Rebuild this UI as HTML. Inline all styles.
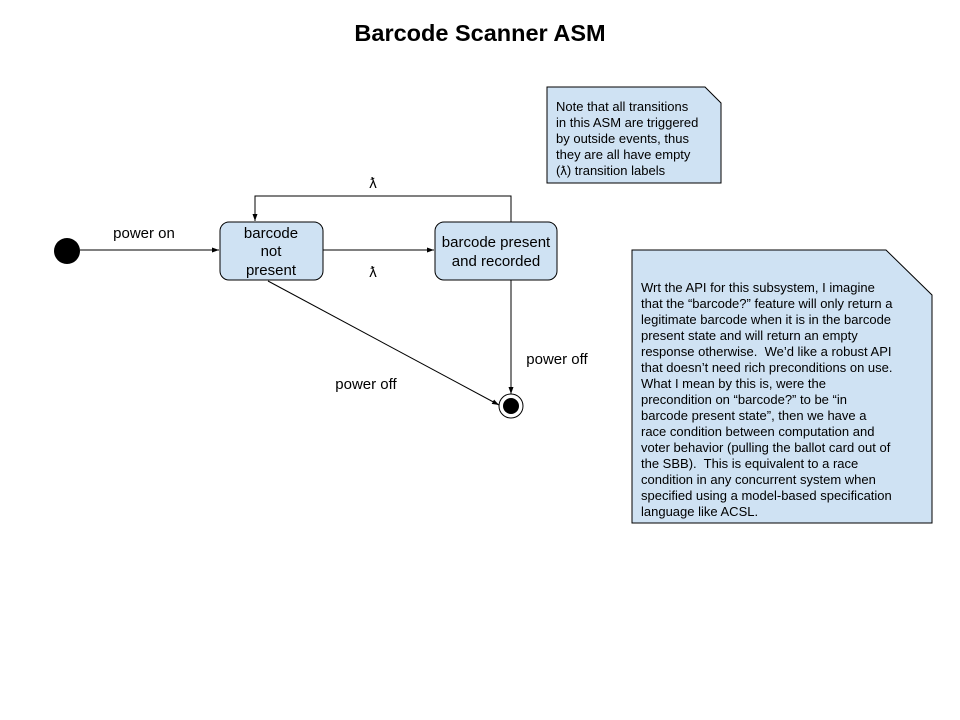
<!DOCTYPE html>
<html><head><meta charset="utf-8"><style>
body{margin:0;background:#fff;}
svg{display:block;}
text{font-family:"Liberation Sans",sans-serif;fill:#000;white-space:pre;}
</style></head><body>
<svg width="960" height="720" viewBox="0 0 960 720" xmlns="http://www.w3.org/2000/svg">
<defs>
<marker id="a" markerWidth="8" markerHeight="8" refX="7" refY="4" orient="auto" markerUnits="userSpaceOnUse">
<path d="M0,1.5 L7,4 L0,6.5 Z" fill="#000"/>
</marker>
</defs>
<rect width="960" height="720" fill="#fff"/>
<text x="480" y="41" font-size="23.5" font-weight="bold" text-anchor="middle">Barcode Scanner ASM</text>

<path d="M547,87 L705,87 L721,103 L721,183 L547,183 Z" fill="#cfe2f3" stroke="#000" stroke-width="1"/>
<text font-size="13"><tspan x="556" y="111">Note that all transitions</tspan><tspan x="556" y="127">in this ASM are triggered</tspan><tspan x="556" y="143">by outside events, thus</tspan><tspan x="556" y="159">they are all have empty</tspan><tspan x="556" y="175">(ƛ) transition labels</tspan></text>

<path d="M632,250 L886,250 L932,295 L932,523 L632,523 Z" fill="#cfe2f3" stroke="#000" stroke-width="1"/>
<text font-size="13" xml:space="preserve"><tspan x="641" y="292">Wrt the API for this subsystem, I imagine</tspan><tspan x="641" y="308">that the “barcode?” feature will only return a</tspan><tspan x="641" y="324">legitimate barcode when it is in the barcode</tspan><tspan x="641" y="340">present state and will return an empty</tspan><tspan x="641" y="356">response otherwise.  We’d like a robust API</tspan><tspan x="641" y="372">that doesn’t need rich preconditions on use.</tspan><tspan x="641" y="388">What I mean by this is, were the</tspan><tspan x="641" y="404">precondition on “barcode?” to be “in</tspan><tspan x="641" y="420">barcode present state”, then we have a</tspan><tspan x="641" y="436">race condition between computation and</tspan><tspan x="641" y="452">voter behavior (pulling the ballot card out of</tspan><tspan x="641" y="468">the SBB).  This is equivalent to a race</tspan><tspan x="641" y="484">condition in any concurrent system when</tspan><tspan x="641" y="500">specified using a model-based specification</tspan><tspan x="641" y="516">language like ACSL.</tspan></text>

<line x1="80" y1="250" x2="219" y2="250" stroke="#000" marker-end="url(#a)"/>
<line x1="323" y1="250" x2="434" y2="250" stroke="#000" marker-end="url(#a)"/>
<polyline points="511,222 511,196 255,196 255,221" fill="none" stroke="#000" marker-end="url(#a)"/>
<line x1="511" y1="280" x2="511" y2="394" stroke="#000" marker-end="url(#a)"/>
<line x1="268" y1="281" x2="499" y2="405" stroke="#000" marker-end="url(#a)"/>

<rect x="220" y="222" width="103" height="58" rx="9" fill="#cfe2f3" stroke="#000"/>
<text font-size="15" text-anchor="middle"><tspan x="271" y="238">barcode</tspan><tspan x="271" y="256">not</tspan><tspan x="271" y="275">present</tspan></text>
<rect x="435" y="222" width="122" height="58" rx="9" fill="#cfe2f3" stroke="#000"/>
<text font-size="15" text-anchor="middle"><tspan x="496" y="247">barcode present</tspan><tspan x="496" y="266">and recorded</tspan></text>

<circle cx="67" cy="251" r="13" fill="#000"/>
<circle cx="511" cy="406" r="12" fill="#fff" stroke="#000"/>
<circle cx="511" cy="406" r="8" fill="#000"/>

<text x="144" y="238" font-size="15" text-anchor="middle">power on</text>
<text x="373" y="188" font-size="15" text-anchor="middle">ƛ</text>
<text x="373" y="277" font-size="15" text-anchor="middle">ƛ</text>
<text x="366" y="389" font-size="15" text-anchor="middle">power off</text>
<text x="557" y="364" font-size="15" text-anchor="middle">power off</text>
</svg>
</body></html>
